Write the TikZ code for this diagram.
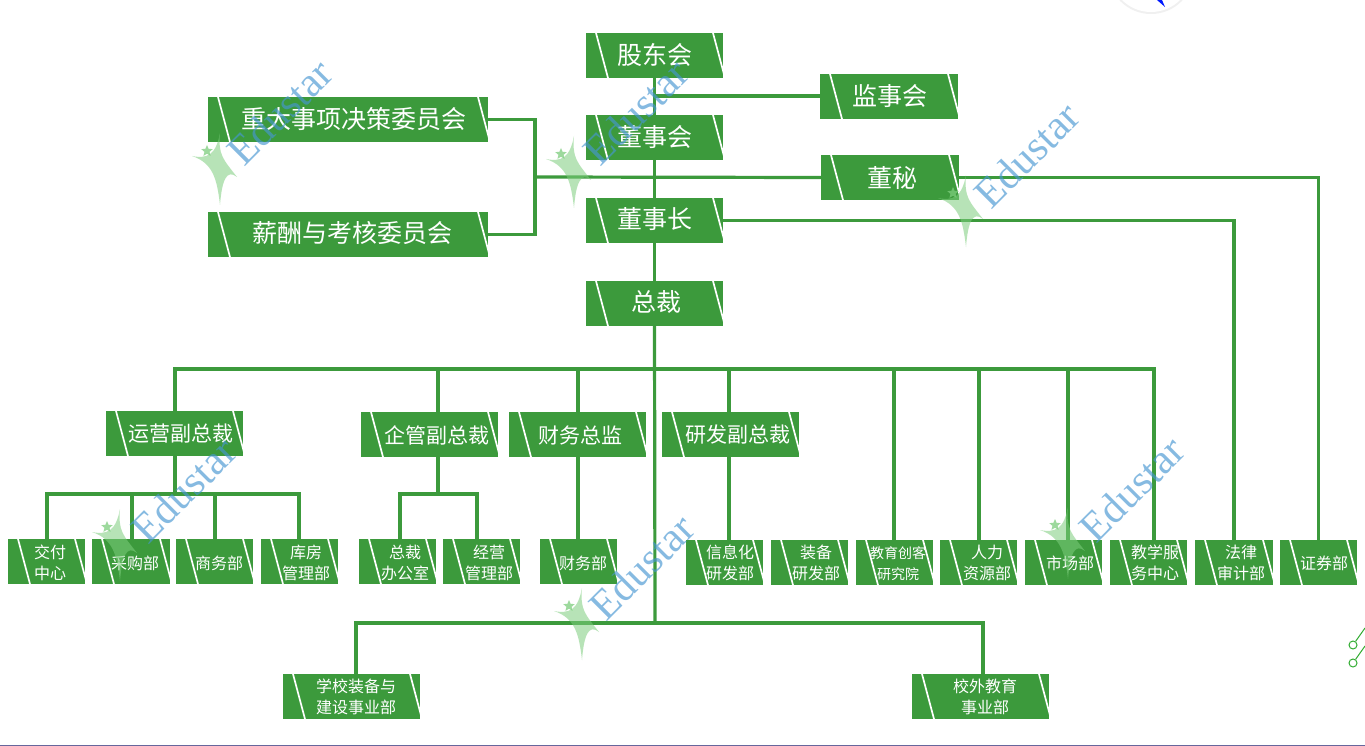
\documentclass[tikz,border=0pt]{standalone}
\usepackage{fontspec}
\setmainfont{Noto Sans CJK SC}
\newfontfamily\wmfont{Liberation Serif}
\usetikzlibrary{shapes.geometric}
\definecolor{bx}{HTML}{3C9A3C}
\definecolor{wmblue}{RGB}{70,150,210}
\definecolor{wmgreen}{RGB}{125,205,125}
\tikzset{
  orgbox/.style={rectangle,inner sep=0pt,fill=bx,draw=none,
    path picture={
      \draw[white,line width=1.7pt]
        ([xshift=10pt]path picture bounding box.north west) -- ([xshift=22pt]path picture bounding box.south west)
        ([xshift=-10pt]path picture bounding box.north east) -- ([xshift=2pt]path picture bounding box.south east);
    }},
  orgtext/.style={text=white,inner sep=0pt,align=center},
  wire/.style={draw=bx,line width=3.2pt,line cap=butt,line join=miter},
  wmtext/.style={text=wmblue,text opacity=0.65,rotate=45,inner sep=0pt,font=\wmfont\fontsize{42}{42}\selectfont},
  wmstar/.style={fill=wmgreen,fill opacity=0.55},
  wmsmall/.style={star,star points=5,star point ratio=2.2,fill=wmgreen,fill opacity=0.75,inner sep=0pt,minimum size=12pt},
  tiny/.style={circle,draw=green!60!black!80!white,line width=1pt,inner sep=0pt,minimum size=8pt}
}
\newcommand{\obox}[9]{%
  \node[orgbox,minimum width={(#4-#2)*1pt},minimum height={(#5-#3)*1pt}] (#1) at ({(#2+#4)/2},{(#3+#5)/2}) {};
  \node[orgtext,font=\fontsize{#8}{21}\selectfont] (#1-t) at (#6,#7+1) {#9};
}
\newcommand{\wmark}[5]{%
  \node[wmtext] (#1-w) at (#2,#3) {Edustar};
  \begin{scope}[shift={(#4,#5)}]
    \fill[wmstar] (1,-34) .. controls (-1,-12) and (4,-8) .. (18,10)
      .. controls (8,2) and (3,12) .. (1,38)
      .. controls (-2,12) and (-6,-4) .. (-27,-11)
      .. controls (-12,-8) and (-3,-12) .. (1,-34) -- cycle;
    \node[wmsmall] (#1-s) at (-12,-16) {};
  \end{scope}
}
\begin{document}
\begin{tikzpicture}[x=1pt,y=-1pt]
\useasboundingbox (0,0) rectangle (1365,746);
\clip (0,0) rectangle (1365,746);
\fill[white] (0,0) rectangle (1365,746);

% coordinates of the junctions
\coordinate (br) at (535,177);
\coordinate (b1) at (175,369);
\coordinate (b2) at (438,369);
\coordinate (b3) at (578,369);
\coordinate (b4) at (729,369);
\coordinate (b5) at (894,369);
\coordinate (b6) at (979,369);
\coordinate (b7) at (1068,369);
\coordinate (b8) at (1154,369);
\coordinate (bc) at (655,369);
\coordinate (bot) at (655,623);
\coordinate (botl) at (356,623);
\coordinate (botr) at (983,623);
\coordinate (y0) at (175,494);
\coordinate (y1) at (47,494);
\coordinate (y2) at (132,494);
\coordinate (y3) at (215,494);
\coordinate (y4) at (299,494);
\coordinate (q0) at (438,494);
\coordinate (q1) at (400,494);
\coordinate (q2) at (477,494);
\coordinate (zc1) at (655,96);

% boxes
\obox{gd}{586}{33}{723}{78}{655}{54}{25}{股东会}
\obox{jsh}{820}{74}{958}{119}{890}{95}{25}{监事会}
\obox{dsh}{586}{115}{723}{160}{655}{136}{25}{董事会}
\obox{dm}{821}{155}{959}{200}{892}{177}{25}{董秘}
\obox{dsz}{586}{198}{723}{243}{655}{218}{25}{董事长}
\obox{zc}{586}{281}{723}{326}{656}{301}{25}{总裁}
\obox{zd}{208}{97}{488}{142}{354}{118}{25}{重大事项决策委员会}
\obox{xc}{208}{212}{488}{257}{352}{232}{25}{薪酬与考核委员会}
\obox{yy}{106}{411}{243}{456}{181}{433}{21}{运营副总裁}
\obox{qg}{361}{412}{498}{457}{437}{434}{21}{企管副总裁}
\obox{cw}{509}{412}{646}{457}{580}{434}{21}{财务总监}
\obox{yf}{662}{412}{799}{457}{738}{434}{21}{研发副总裁}
\obox{a1}{8}{539}{85}{584}{50}{562}{16}{交付\\中心}
\obox{a2}{92}{539}{170}{584}{135}{562}{16}{采购部}
\obox{a3}{176}{539}{253}{584}{219}{562}{16}{商务部}
\obox{a4}{261}{539}{338}{584}{306}{562}{16}{库房\\管理部}
\obox{a5}{359}{539}{436}{584}{405}{562}{16}{总裁\\办公室}
\obox{a6}{443}{539}{520}{584}{489}{562}{16}{经营\\管理部}
\obox{a7}{540}{539}{617}{584}{583}{562}{16}{财务部}
\obox{a8}{686}{540}{763}{585}{730}{562}{16}{信息化\\研发部}
\obox{a9}{771}{540}{848}{585}{816}{562}{16}{装备\\研发部}
\obox{a10}{856}{540}{933}{585}{898}{563}{14}{教育创客\\研究院}
\obox{a11}{940}{540}{1017}{585}{987}{562}{16}{人力\\资源部}
\obox{a12}{1025}{540}{1102}{585}{1070}{562}{16}{市场部}
\obox{a13}{1110}{540}{1187}{585}{1155}{562}{16}{教学服\\务中心}
\obox{a14}{1195}{540}{1273}{585}{1241}{562}{16}{法律\\审计部}
\obox{a15}{1280}{540}{1357}{585}{1324}{562}{16}{证券部}
\obox{c1}{283}{674}{420}{719}{356}{696}{16}{学校装备与\\建设事业部}
\obox{c2}{912}{674}{1049}{719}{985}{696}{16}{校外教育\\事业部}

% connectors
\draw[wire] (gd.south) -- (dsh.north);
\draw[wire] (dsh.south) -- (dsz.north);
\draw[wire] (dsz.south) -- (zc.north);
\draw[wire] (zc.south) -- (bot);
\draw[wire] (zc1) -- (zc1 -| jsh.west);
\draw[wire] (zd.east) -| (br);
\draw[wire] (xc.east) -| (br);
\draw[wire] (br) -- (dm.west);
\draw[wire] (dm.east) -| (a15.north);
\draw[wire] (dsz.east) -| (1234,540);
\draw[wire] ([xshift=-1.6pt]b1) -- ([xshift=1.6pt]b8);
\draw[wire] (b1) -- (b1 |- yy.north);
\draw[wire] (b2) -- (b2 |- qg.north);
\draw[wire] (b3) -- (b3 |- cw.north);
\draw[wire] (b4) -- (b4 |- yf.north);
\draw[wire] (b5) -- (b5 |- a10.north);
\draw[wire] (b6) -- (b6 |- a11.north);
\draw[wire] (b7) -- (b7 |- a12.north);
\draw[wire] (b8) -- (b8 |- a13.north);
\draw[wire] (y0 |- yy.south) -- (y0);
\draw[wire] ([xshift=-1.6pt]y1) -- ([xshift=1.6pt]y4);
\draw[wire] (y1) -- (y1 |- a1.north);
\draw[wire] (y2) -- (y2 |- a2.north);
\draw[wire] (y3) -- (y3 |- a3.north);
\draw[wire] (y4) -- (y4 |- a4.north);
\draw[wire] (q0 |- qg.south) -- (q0);
\draw[wire] ([xshift=-1.6pt]q1) -- ([xshift=1.6pt]q2);
\draw[wire] (q1) -- (q1 |- a5.north);
\draw[wire] (q2) -- (q2 |- a6.north);
\draw[wire] (b3 |- cw.south) -- (b3 |- a7.north);
\draw[wire] (b4 |- yf.south) -- (b4 |- a8.north);
\draw[wire] ([xshift=-1.6pt]botl) -- ([xshift=1.6pt]botr);
\draw[wire] (botl) -- (botl |- c1.north);
\draw[wire] (botr) -- (botr |- c2.north);

% watermarks
\wmark{m1}{280}{112}{219}{167}
\wmark{m2}{636}{112}{573}{170}
\wmark{m3}{1027}{155}{965}{209}
\wmark{m4}{1132}{489}{1067}{541}
\wmark{m5}{184}{490}{119}{543}
\wmark{m6}{642}{567}{581}{622}

% fragments at the picture edges
\fill[black!6] (1151,-29) circle (43);
\node[circle,fill=white,inner sep=0pt,minimum size=82pt] (disc) at (1151,-29) {};
\fill[blue!90!cyan] (1157,0) -- (1162,0) -- (1165,7) -- cycle;
\node[tiny] (r1) at (1353,645) {};
\node[tiny] (r2) at (1353,663) {};
\coordinate (r1e) at (1365,628);
\coordinate (r2e) at (1365,646);
\draw[green!60!black!80!white,line width=1pt] (r1) -- (r1e);
\draw[green!60!black!80!white,line width=1pt] (r2) -- (r2e);
\coordinate (bl) at (0,745.5);
\coordinate (br2) at (1365,745.5);
\draw[black!65!blue!60!white,line width=1.2pt] (bl) -- (br2);
\end{tikzpicture}
\end{document}
